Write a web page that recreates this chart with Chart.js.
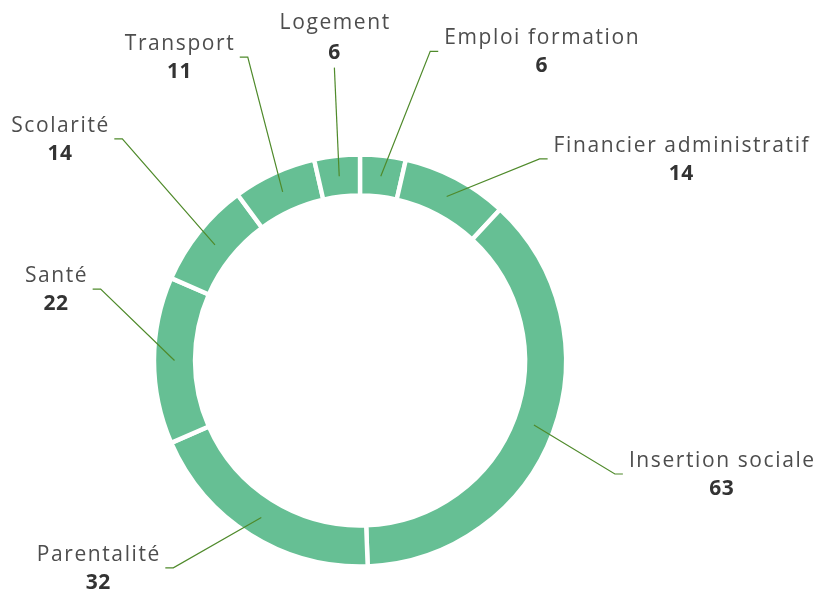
<!DOCTYPE html>
<html><head><meta charset="utf-8">
<script src="https://cdn.jsdelivr.net/npm/chart.js@4.4.1/dist/chart.umd.min.js"></script>
<style>html,body{margin:0;padding:0;background:#fff}#wrap{width:813px;height:590px}</style>
</head><body><div id="wrap"><canvas id="c" width="813" height="590"></canvas></div>
<script>
const categories = ["Emploi formation","Financier administratif","Insertion sociale","Parentalité","Santé","Scolarité","Transport","Logement"];
const values = [6,14,63,32,22,14,11,6];

// label layout: elbow point in polar coords (canvas degrees, px from centre), side, style
const labelLayout = [
  {a:282.8, r:317, side:1},
  {a:311.7, r:270, side:1},
  {a:24.0,  r:279, side:1},
  {a:132.0, r:279, side:-1},
  {a:195.4, r:269, side:-1},
  {a:223.0, r:325, side:-1},
  {a:249.7, r:323.5, side:-1},
  {a:265.0, r:294, side:0}
];

const FONT = '"Open Sans", sans-serif';
const NAME_FONT = '21px ' + FONT;
const NAME_LS = 1.6;
const labelPlugin = {
  id:'leaderLabels',
  afterDatasetsDraw(chart){
    const ctx = chart.ctx;
    const meta = chart.getDatasetMeta(0);
    meta.data.forEach((arc,i)=>{
      const p = arc.getProps(['x','y','startAngle','endAngle','innerRadius','outerRadius'],true);
      const mid = (p.startAngle+p.endAngle)/2;
      const rm = (p.innerRadius+p.outerRadius)/2;
      const sx = p.x + Math.cos(mid)*rm, sy = p.y + Math.sin(mid)*rm;
      const L = labelLayout[i];
      const ang = L.a*Math.PI/180;
      const ex = p.x + Math.cos(ang)*L.r, ey = p.y + Math.sin(ang)*L.r;
      ctx.save();
      ctx.strokeStyle = '#4f8a2b';
      ctx.lineWidth = 1.2;
      ctx.beginPath();
      ctx.moveTo(sx,sy);
      ctx.lineTo(ex,ey);
      let tx, nameY, valY;
      ctx.font = NAME_FONT;
      ctx.letterSpacing = NAME_LS + 'px';
      if (L.side !== 0) {
        const hx = ex + L.side*8;
        ctx.lineTo(hx,ey);
        ctx.stroke();
        const w = ctx.measureText(categories[i]).width - NAME_LS;
        const tstart = hx + L.side*6;
        tx = L.side>0 ? tstart + w/2 : tstart - w/2;
        nameY = ey - 13; valY = ey + 15;
      } else {
        ctx.stroke();
        tx = ex; nameY = ey - 45; valY = ey - 15;
      }
      ctx.textAlign = 'left';
      ctx.textBaseline = 'middle';
      ctx.fillStyle = '#4d4d4d';
      const wn = ctx.measureText(categories[i]).width - NAME_LS;
      ctx.fillText(categories[i], tx - wn/2, nameY);
      ctx.letterSpacing = '0.5px';
      ctx.fillStyle = '#333333';
      ctx.font = 'bold 21px '+FONT;
      const wv = ctx.measureText(String(values[i])).width - 0.5;
      ctx.fillText(String(values[i]), tx - wv/2, valY);
      ctx.restore();
    });
  }
};

new Chart(document.getElementById('c'), {
  type:'doughnut',
  data:{labels:categories, datasets:[{data:values, backgroundColor:'#66bf94', borderColor:'#ffffff', borderWidth:4.4, borderAlign:'center', hoverOffset:0}]},
  options:{
    responsive:false, animation:false,
    radius:206, cutout:'80.1%',
    layout:{padding:{left:0,right:93,top:131,bottom:0}},
    plugins:{legend:{display:false}, tooltip:{enabled:false}}
  },
  plugins:[labelPlugin]
});
</script></body></html>
